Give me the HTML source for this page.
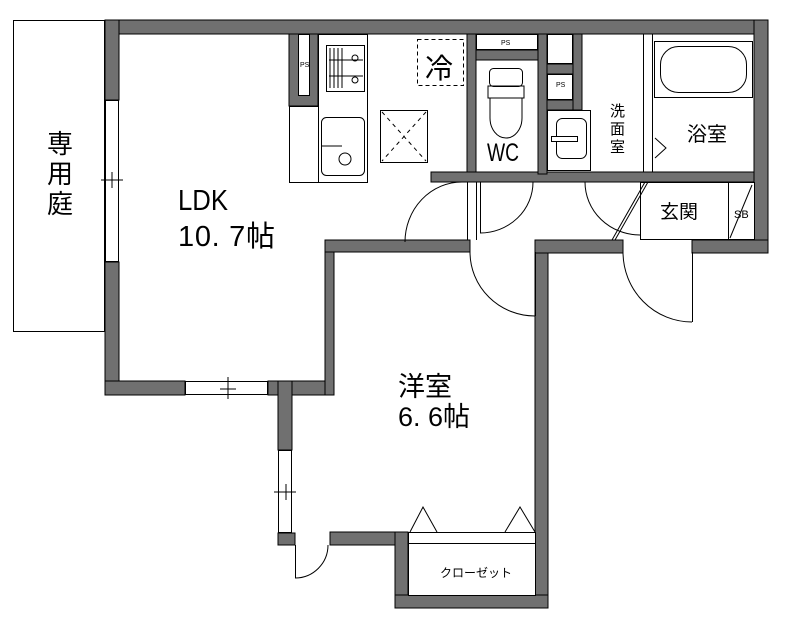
<!DOCTYPE html>
<html><head><meta charset="utf-8"><style>
html,body{margin:0;padding:0;background:#fff;}
svg{display:block;}
text{font-family:"Liberation Sans","Noto Sans CJK JP",sans-serif;fill:#000;}
</style></head><body>
<svg width="800" height="639" viewBox="0 0 800 639" xmlns="http://www.w3.org/2000/svg">
<g fill="#707070" stroke="#000" stroke-width="1">
<rect x="105" y="20" width="663" height="14"/>
<rect x="754" y="20" width="14" height="232"/>
<rect x="105" y="20" width="14" height="80"/>
<rect x="105" y="262" width="14" height="133"/>
<rect x="105" y="381" width="80" height="14"/>
<rect x="268" y="381" width="66" height="14"/>
<rect x="325" y="242" width="9" height="153"/>
<rect x="325" y="240" width="145" height="12"/>
<rect x="535" y="240" width="13" height="368"/>
<rect x="535" y="240" width="88" height="13"/>
<rect x="692" y="240" width="76" height="13"/>
<rect x="278" y="381" width="14" height="69"/>
<rect x="278" y="533" width="17" height="12"/>
<rect x="330" y="532" width="78" height="13"/>
<rect x="395" y="532" width="13" height="76"/>
<rect x="395" y="595" width="153" height="13"/>
<rect x="289" y="34" width="29" height="72"/>
<rect x="467" y="34" width="9" height="140"/>
<rect x="431" y="172" width="323" height="10"/>
<rect x="476" y="50" width="62" height="10"/>
<rect x="538" y="34" width="9" height="140"/>
<rect x="547" y="64" width="26" height="10"/>
<rect x="547" y="100" width="26" height="10"/>
<rect x="573" y="34" width="9" height="76"/>
</g>
<g fill="#fff" stroke="#000" stroke-width="1">
<rect x="13.5" y="20.5" width="91" height="311"/>
<rect x="105.5" y="100.5" width="13" height="161"/>
<rect x="185.5" y="381.5" width="82" height="13"/>
<rect x="278.5" y="450.5" width="13" height="82"/>
<rect x="298.5" y="34.5" width="11" height="61"/>
<rect x="289.5" y="106.5" width="29" height="76"/>
<rect x="318.5" y="34.5" width="49" height="148"/>
<rect x="326.5" y="45.5" width="38" height="46"/>
<rect x="321.5" y="117.5" width="43" height="58" rx="5"/>
<circle cx="345" cy="159" r="6"/>
<rect x="380.5" y="110.5" width="47" height="52"/>
<rect x="476.5" y="34.5" width="61" height="15"/>
<rect x="547.5" y="34.5" width="25" height="29"/>
<rect x="547.5" y="74.5" width="25" height="25"/>
<rect x="547.5" y="110.5" width="43" height="60"/>
<rect x="556.5" y="118.5" width="30" height="40" rx="6"/>
<rect x="551.5" y="136.5" width="26" height="5"/>
<rect x="654.5" y="41.5" width="98" height="56"/>
<rect x="660.5" y="46.5" width="86" height="46" rx="18"/>
<rect x="640.5" y="182.5" width="114" height="57"/>
<rect x="408.5" y="532.5" width="127" height="63"/>
</g>
<g fill="none" stroke="#000" stroke-width="1">
<line x1="408" y1="543.5" x2="535" y2="543.5"/>
<path d="M410 532 L423 507 L437 532 M505 532 L520 507 L535 532"/>
<rect x="417.5" y="39.5" width="46" height="46" stroke-dasharray="4,3"/>
<path d="M382 112 L426 161 M426 112 L382 161" stroke-dasharray="4,4"/>
<path d="M330 48v40M334 48v40M338 48v40M342 48v40M329 60h34M329 76h34"/>
<circle cx="355" cy="58" r="3"/><circle cx="355" cy="80" r="3"/>
<path d="M322 146h20"/>
<rect x="489.5" y="68.5" width="33" height="18" rx="4"/>
<path d="M488 86 h36 v12 h-36z"/>
<path d="M490 98 v20 a16 20 0 0 0 32 0 v-20"/>
<line x1="643.5" y1="34" x2="643.5" y2="172"/>
<line x1="652.5" y1="34" x2="652.5" y2="172"/>
<path d="M655 138 L666 148 L655 158"/>
<path d="M405 242 A57 60 0 0 1 462 182"/>
<line x1="467.5" y1="182" x2="467.5" y2="240"/>
<line x1="476.5" y1="182" x2="476.5" y2="240"/>
<line x1="480.5" y1="182" x2="480.5" y2="233"/>
<path d="M480 233 A53 51 0 0 0 533 182"/>
<line x1="640.5" y1="182" x2="640.5" y2="235"/>
<path d="M585 182 A55 53 0 0 0 640 235"/>
<path d="M645 182 L612 240 M648 182 L615 240"/>
<line x1="728.5" y1="182" x2="728.5" y2="240"/>
<path d="M752 185 L730 238"/>
<line x1="535.5" y1="252" x2="535.5" y2="316"/>
<path d="M470 252 A65 64 0 0 0 535 316"/>
<line x1="692.5" y1="252" x2="692.5" y2="322"/>
<path d="M623 252 A69 70 0 0 0 692 322"/>
<line x1="295.5" y1="545" x2="295.5" y2="578"/>
<path d="M295 578 A33 33 0 0 0 328 545"/>
<path d="M101 180h22M112 172v16M228 377v22M220 389h16M274 492h22M286 484v16"/>
</g>
<text x="47" y="153" font-size="26">専</text>
<text x="47" y="183" font-size="26">用</text>
<text x="47" y="213" font-size="26">庭</text>
<text x="178" y="210" font-size="29" textLength="50" lengthAdjust="spacingAndGlyphs">LDK</text>
<text x="178" y="246" font-size="29" textLength="97" lengthAdjust="spacing">10. 7帖</text>
<text x="398" y="396" font-size="27">洋室</text>
<text x="398" y="426" font-size="27" textLength="72" lengthAdjust="spacing">6. 6帖</text>
<text x="425" y="78" font-size="28">冷</text>
<text x="487" y="161" font-size="25" textLength="32" lengthAdjust="spacingAndGlyphs">WC</text>
<text x="687" y="141" font-size="20">浴室</text>
<text x="660" y="218" font-size="19">玄関</text>
<text x="734" y="218" font-size="11">SB</text>
<text x="610" y="116" font-size="15">洗</text>
<text x="610" y="134" font-size="15">面</text>
<text x="610" y="152" font-size="15">室</text>
<text x="300" y="67" font-size="7">PS</text>
<text x="501" y="45" font-size="7">PS</text>
<text x="556" y="87" font-size="7">PS</text>
<text x="440" y="577" font-size="12">クローゼット</text>
</svg>
</body></html>
